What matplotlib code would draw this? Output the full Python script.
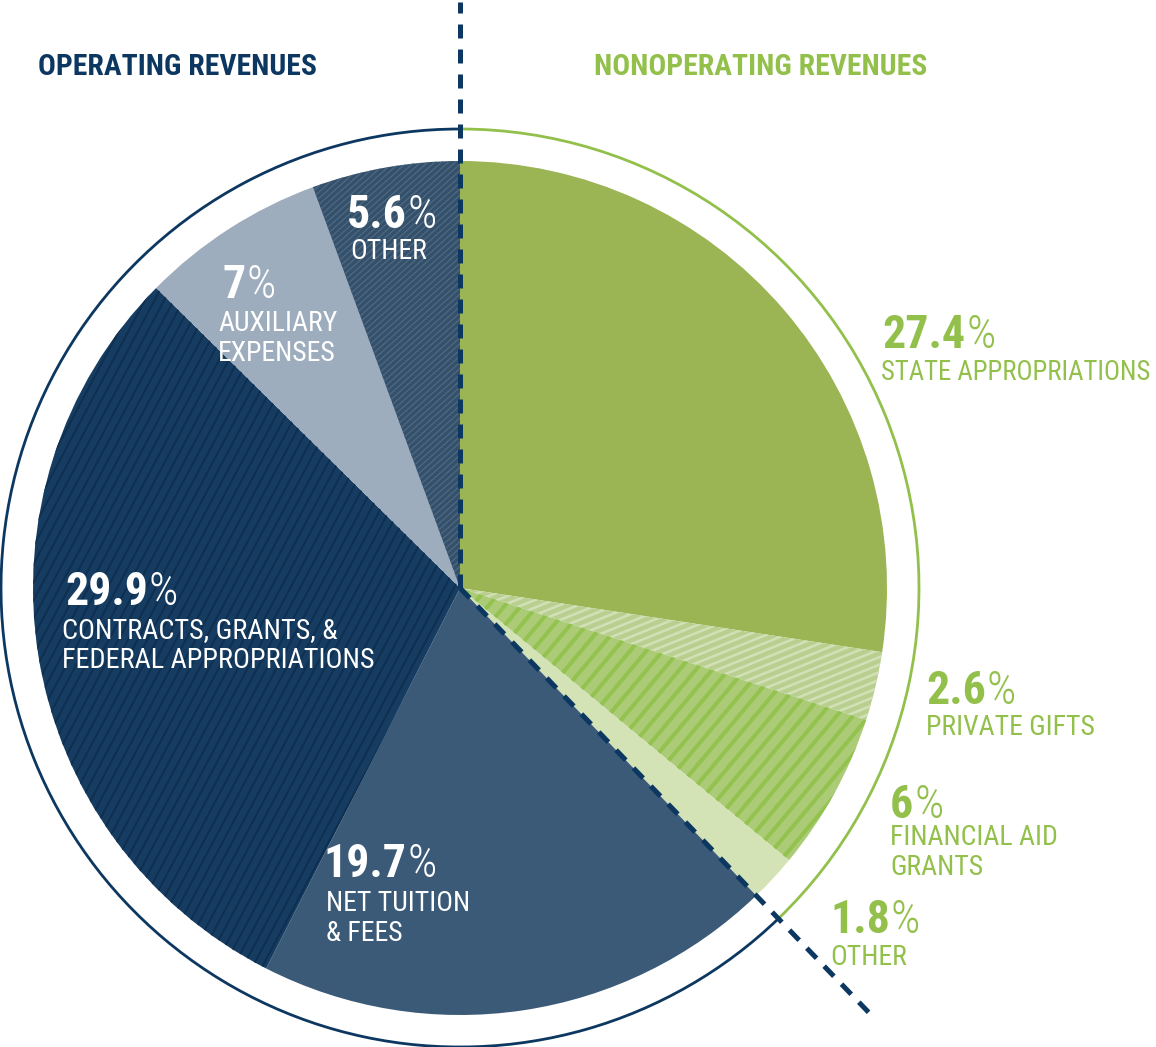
import matplotlib
matplotlib.use("Agg")
import matplotlib.pyplot as plt
from matplotlib import font_manager
from matplotlib.patches import Arc
from matplotlib.collections import LineCollection
import numpy as np

# ---------------- data ----------------
categories = ["STATE APPROPRIATIONS", "PRIVATE GIFTS", "FINANCIAL AID GRANTS", "OTHER",
              "NET TUITION & FEES", "CONTRACTS, GRANTS, & FEDERAL APPROPRIATIONS",
              "AUXILIARY EXPENSES", "OTHER"]
shares = [27.4, 2.6, 6, 1.8, 19.7, 29.9, 7, 5.6]
groups = ["nonop", "nonop", "nonop", "nonop", "op", "op", "op", "op"]
pct_text = ["27.4", "2.6", "6", "1.8", "19.7", "29.9", "7", "5.6"]
label_lines = [["STATE APPROPRIATIONS"], ["PRIVATE GIFTS"], ["FINANCIAL AID", "GRANTS"],
               ["OTHER"], ["NET TUITION", "& FEES"],
               ["CONTRACTS, GRANTS, &", "FEDERAL APPROPRIATIONS"],
               ["AUXILIARY", "EXPENSES"], ["OTHER"]]
group_titles = ["OPERATING REVENUES", "NONOPERATING REVENUES"]

# ---------------- style ----------------
W, H = 1156, 1047
NAVY = "#0c3760"
GREEN = "#92c04b"
face = ["#9bb555", "#b9cf8f", "#abcb76", "#d3e3b6",
        "#3b5a78", "#163d61", "#9eadbd", "#34506a"]
# (angle, spacing, color, width px) for striped slices
stripe_spec = {1: (22, 7.0, "#d2e0b6", 2.6),
               2: (50, 12.5, "#93c24f", 4.0),
               5: (62, 8.5, "#0e2f50", 2.0),
               7: (42, 4.6, "#4f6a83", 1.2)}
text_color = [GREEN, GREEN, GREEN, GREEN, "white", "white", "white", "white"]
# layout: (x of number, baseline y of number, x of text lines, baselines of lines, label size)
label_pos = [(882, 348, 881, [380], 19.3),
             (926, 704, 926, [735], 20),
             (890, 818, 890, [845, 875], 20),
             (830, 933, 830, [965], 20),
             (323, 877, 326, [911, 941], 20),
             (65, 605, 62, [638, 668], 20.3),
             (222, 298, 218, [331, 361], 20),
             (347, 228, 350, [259], 20)]

avail = {f.name for f in font_manager.fontManager.ttflist}
FONT = "DejaVu Sans"
STRETCH = "normal"
for cand in ["Roboto Condensed", "Liberation Sans Narrow", "Open Sans Condensed"]:
    if cand in avail:
        FONT = cand
        break
else:
    STRETCH = "condensed"

CX, CY = 460, H - 588
R = 427
R_RING = 459

fig = plt.figure(figsize=(W / 100, H / 100), dpi=100)
ax = fig.add_axes([0, 0, 1, 1])

wedges, _ = ax.pie(shares, startangle=90, counterclock=False, center=(CX, CY), radius=R,
                   colors=face, wedgeprops=dict(linewidth=0, antialiased=True))
ax.set_xlim(0, W)
ax.set_ylim(0, H)
ax.set_aspect("equal")
ax.axis("off")

for i, (ang, sp, col, lwpx) in stripe_spec.items():
    w = wedges[i]
    d = np.deg2rad(ang)
    u = np.array([np.cos(d), np.sin(d)])
    n = np.array([-np.sin(d), np.cos(d)])
    segs = []
    for k in np.arange(-1.6 * R, 1.6 * R, sp):
        p = np.array([CX, CY]) + n * k
        segs.append([p - u * 1.6 * R, p + u * 1.6 * R])
    lc = LineCollection(segs, colors=col, linewidths=lwpx * 0.72, capstyle="butt")
    ax.add_collection(lc)
    lc.set_clip_path(w)

# boundary between operating / nonoperating
split_angle = 90 - 360 * sum(s for s, g in zip(shares, groups) if g == "nonop") / sum(shares)

ax.add_patch(Arc((CX, CY), 2 * R_RING, 2 * R_RING, theta1=90, theta2=360 + split_angle,
                 color=NAVY, lw=2.0))
ax.add_patch(Arc((CX, CY), 2 * R_RING, 2 * R_RING, theta1=split_angle, theta2=90,
                 color=GREEN, lw=2.0))

dash = (0, (2.8, 2.2))
ax.plot([CX, CX], [CY, H - 2], color=NAVY, lw=3.6, linestyle=dash, dash_capstyle="butt")
a = np.deg2rad(split_angle)
L = 589
ax.plot([CX, CX + L * np.cos(a)], [CY, CY + L * np.sin(a)], color=NAVY, lw=3.6,
        linestyle=dash, dash_capstyle="butt")

# titles
tfont = dict(family=FONT, fontstretch=STRETCH, fontweight="bold", fontsize=21.3)
ax.text(38, H - 75, group_titles[0], color=NAVY, va="baseline", ha="left", **tfont)
ax.text(594, H - 75, group_titles[1], color=GREEN, va="baseline", ha="left", **tfont)

renderer = fig.canvas.get_renderer()
for i in range(len(shares)):
    xn, yn, xl, ybs, lsz = label_pos[i]
    c = text_color[i]
    t = ax.text(xn, H - yn, pct_text[i], color=c, fontsize=33, fontweight="bold",
                family=FONT, fontstretch=STRETCH, va="baseline", ha="left")
    bb = t.get_window_extent(renderer)
    ax.text(bb.x1 + 1, H - yn, "%", color=c, fontsize=33, fontweight="light",
            family=FONT, fontstretch=STRETCH, va="baseline", ha="left")
    for line, yb in zip(label_lines[i], ybs):
        ax.text(xl, H - yb, line, color=c, fontsize=lsz, family=FONT, fontstretch=STRETCH,
                va="baseline", ha="left")

fig.savefig("out.png", dpi=100)
